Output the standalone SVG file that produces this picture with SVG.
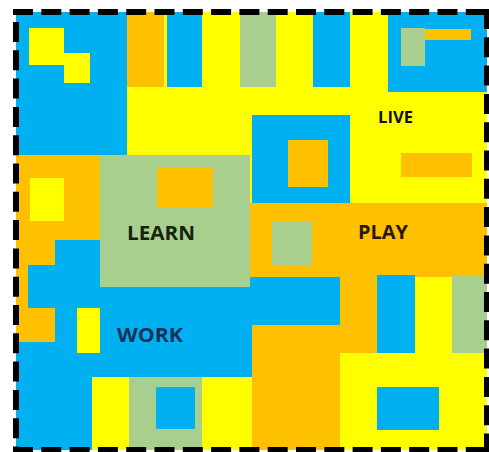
<svg xmlns="http://www.w3.org/2000/svg" width="489" height="452" viewBox="0 0 489 452">
<style>
.b{fill:#00B0F0}.y{fill:#FFFF00}.o{fill:#FFC000}.g{fill:#A9CF8E}
.bd{stroke:#000;stroke-width:6;stroke-dasharray:20 8.3;fill:none}
.t{font-family:"Open Sans","Liberation Sans",sans-serif;font-weight:700}
</style>
<rect width="489" height="452" fill="#fff"/>
<g id="scene">
<rect class="y" x="16" y="12" width="471" height="438"/>
<rect class="b" x="16" y="12" width="111" height="143"/>
<rect class="y" x="29" y="28" width="35" height="37"/>
<rect class="y" x="64" y="53" width="26" height="30"/>
<rect class="o" x="127" y="12" width="37" height="75"/>
<rect class="b" x="167" y="12" width="35" height="75"/>
<rect class="g" x="240" y="12" width="36" height="75"/>
<rect class="b" x="313" y="12" width="37" height="75"/>
<rect class="b" x="388" y="12" width="99" height="80"/>
<rect class="g" x="401" y="28" width="24" height="38"/>
<rect class="o" x="425" y="29" width="46" height="11"/>
<rect class="b" x="252" y="115" width="98" height="88"/>
<rect class="o" x="288" y="140" width="40" height="47"/>
<rect class="o" x="401" y="153" width="71" height="24"/>
<rect class="b" x="16" y="240" width="324" height="137"/>
<rect class="b" x="16" y="377" width="76" height="73"/>
<rect class="o" x="16" y="155" width="84" height="85"/>
<rect class="o" x="16" y="240" width="39" height="25"/>
<rect class="o" x="16" y="265" width="12" height="43"/>
<rect class="o" x="16" y="308" width="39" height="34"/>
<rect class="y" x="30" y="178" width="34" height="43"/>
<rect class="g" x="100" y="155" width="150" height="132"/>
<rect class="o" x="157" y="168" width="56" height="40"/>
<rect class="o" x="250" y="203" width="237" height="74"/>
<rect class="g" x="272" y="222" width="40" height="43"/>
<rect class="o" x="252" y="325" width="88" height="125"/>
<rect class="o" x="340" y="277" width="37" height="76"/>
<rect class="b" x="377" y="275" width="38" height="78"/>
<rect class="g" x="452" y="275" width="35" height="78"/>
<rect class="b" x="377" y="387" width="62" height="43"/>
<rect class="g" x="129" y="377" width="73" height="73"/>
<rect class="b" x="156" y="387" width="39" height="42"/>
<rect class="y" x="77" y="308" width="23" height="45"/>
</g>
<g id="labels" class="t">
<text x="378" y="123" font-size="16" fill="#111" textLength="35" lengthAdjust="spacingAndGlyphs">LIVE</text>
<text x="127" y="240" font-size="19.5" fill="#14240f" textLength="68" lengthAdjust="spacingAndGlyphs">LEARN</text>
<text x="358" y="239" font-size="19" fill="#2a1700" textLength="50" lengthAdjust="spacingAndGlyphs">PLAY</text>
<text x="117" y="342" font-size="19.5" fill="#17305a" textLength="66" lengthAdjust="spacingAndGlyphs">WORK</text>
</g>
<g id="border" class="bd">
<line x1="13" y1="12" x2="489" y2="12"/>
<line x1="16" y1="22" x2="16" y2="452"/>
<line x1="487" y1="9" x2="487" y2="452"/>
<line x1="13" y1="450" x2="489" y2="450"/>
</g>
</svg>
